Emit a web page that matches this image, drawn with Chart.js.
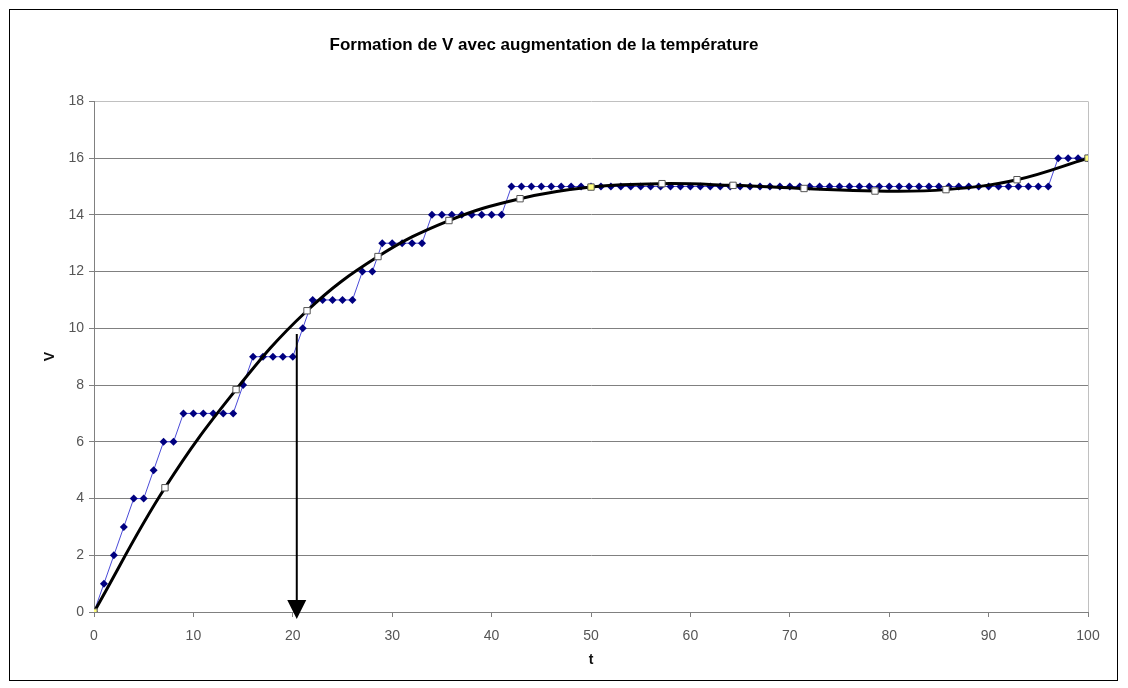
<!DOCTYPE html>
<html>
<head>
<meta charset="utf-8">
<script src="https://cdn.jsdelivr.net/npm/chart.js@4"></script>
<style>
  html, body { margin: 0; padding: 0; background: #fff; }
  #wrap { width: 1128px; height: 688px; }
</style>
</head>
<body>
<div id="wrap"><canvas id="myChart" width="1128" height="688"></canvas></div>
<script>
// temps t (un point par unité)
const tSteps = [0, 1, 2, 3, 4, 5, 6, 7, 8, 9, 10, 11, 12, 13, 14, 15, 16, 17, 18, 19, 20,
    21, 22, 23, 24, 25, 26, 27, 28, 29, 30, 31, 32, 33, 34, 35, 36, 37, 38, 39, 40,
    41, 42, 43, 44, 45, 46, 47, 48, 49, 50, 51, 52, 53, 54, 55, 56, 57, 58, 59, 60,
    61, 62, 63, 64, 65, 66, 67, 68, 69, 70, 71, 72, 73, 74, 75, 76, 77, 78, 79, 80,
    81, 82, 83, 84, 85, 86, 87, 88, 89, 90, 91, 92, 93, 94, 95, 96, 97, 98, 99, 100];
// valeurs mesurées de V
const vSteps = [0, 1, 2, 3, 4, 4, 5, 6, 6, 7, 7, 7, 7, 7, 7, 8, 9, 9, 9, 9, 9,
    10, 11, 11, 11, 11, 11, 12, 12, 13, 13, 13, 13, 13, 14, 14, 14, 14, 14, 14, 14,
    14, 15, 15, 15, 15, 15, 15, 15, 15, 15, 15, 15, 15, 15, 15, 15, 15, 15, 15, 15,
    15, 15, 15, 15, 15, 15, 15, 15, 15, 15, 15, 15, 15, 15, 15, 15, 15, 15, 15, 15,
    15, 15, 15, 15, 15, 15, 15, 15, 15, 15, 15, 15, 15, 15, 15, 15, 16, 16, 16, 16];

// courbe lissée (points de contrôle)
const tFit = [0, 7.14, 14.29, 21.43, 28.57, 35.71, 42.86, 50, 57.14, 64.29, 71.43, 78.57, 85.71, 92.86, 100];
const vFit = [0, 4.38, 7.84, 10.62, 12.53, 13.8, 14.57, 14.98, 15.1, 15.04, 14.93, 14.84, 14.89, 15.24, 16];

// flèche verticale (t, V départ, V arrivée)
const arrowT = 20.4;
const arrowFrom = 9.8;
const arrowTo = -0.25;

const yTicks = [0, 2, 4, 6, 8, 10, 12, 14, 16, 18];
const xTicks = [0, 10, 20, 30, 40, 50, 60, 70, 80, 90, 100];

const stepPoints = tSteps.map((t, i) => ({ x: t, y: vSteps[i] }));
const fitPoints = tFit.map((t, i) => ({ x: t, y: vFit[i] }));

// cadre extérieur + bordure de la zone de tracé
const framePlugin = {
    id: 'frame',
    beforeDraw(chart) {
        const c = chart.ctx;
        c.save();
        c.fillStyle = '#fff';
        c.fillRect(0, 0, chart.width, chart.height);
        c.strokeStyle = '#000';
        c.lineWidth = 1;
        c.strokeRect(9.5, 9.5, 1108, 671);
        c.restore();
    },
    beforeDatasetsDraw(chart) {
        const a = chart.chartArea;
        const c = chart.ctx;
        c.save();
        c.strokeStyle = '#c0c0c0';
        c.lineWidth = 1;
        c.beginPath();
        c.moveTo(a.right + 0.5, a.top);
        c.lineTo(a.right + 0.5, a.bottom);
        c.stroke();
        c.restore();
    }
};

// flèche noire
const arrowPlugin = {
    id: 'arrow',
    afterDatasetsDraw(chart) {
        const xs = chart.scales.x, ys = chart.scales.y;
        const c = chart.ctx;
        const x = xs.getPixelForValue(arrowT);
        const y1 = ys.getPixelForValue(arrowFrom);
        const y2 = ys.getPixelForValue(arrowTo);
        c.save();
        c.strokeStyle = '#000';
        c.fillStyle = '#000';
        c.lineWidth = 2;
        c.beginPath();
        c.moveTo(x, y1);
        c.lineTo(x, y2 - 15);
        c.stroke();
        c.beginPath();
        c.moveTo(x - 9.5, y2 - 19);
        c.lineTo(x + 9.5, y2 - 19);
        c.lineTo(x, y2);
        c.closePath();
        c.fill();
        c.restore();
    }
};

const ctx = document.getElementById('myChart').getContext('2d');
const myChart = new Chart(ctx, {
    type: 'line',
    data: {
        datasets: [
            {
                label: 'Courbe',
                data: fitPoints,
                borderColor: '#000',
                borderWidth: 3,
                tension: 0.4,
                pointStyle: 'rect',
                pointRadius: 4.5,
                pointBorderWidth: 1,
                pointBorderColor: '#555',
                pointBackgroundColor: (c) => (c.dataIndex === 0 || c.dataIndex === 7 || c.dataIndex === tFit.length - 1) ? '#ffff80' : '#fff',
                order: 0
            },
            {
                label: 'V',
                data: stepPoints,
                borderColor: '#4a4ad8',
                borderWidth: 1,
                tension: 0,
                pointStyle: 'rectRot',
                pointRadius: 4,
                pointBorderWidth: 0,
                pointBackgroundColor: '#000080',
                pointBorderColor: '#000080',
                order: 1
            }
        ]
    },
    options: {
        responsive: false,
        animation: false,
        layout: { padding: { left: 0, right: 40, top: 0, bottom: 0 } },
        plugins: {
            legend: { display: false },
            tooltip: { enabled: false },
            title: {
                display: true,
                text: 'Formation de V avec augmentation de la température',
                color: '#000',
                font: { family: 'Liberation Sans, Arial, sans-serif', size: 17, weight: 'bold', lineHeight: 1.2 },
                padding: { top: 35, bottom: 46 }
            }
        },
        scales: {
            x: {
                type: 'linear',
                min: 0,
                max: 100,
                afterFit: (s) => { s.height = 76; },
                afterBuildTicks: (s) => { s.ticks = xTicks.map(v => ({ value: v })); },
                grid: { drawOnChartArea: false, drawTicks: true, tickLength: 5, color: '#808080' },
                border: { color: '#808080', width: 1 },
                ticks: { color: '#555', padding: 11, maxRotation: 0, font: { family: 'Liberation Sans, Arial, sans-serif', size: 14 } },
                title: {
                    display: true,
                    text: 't',
                    color: '#111',
                    font: { family: 'Liberation Sans, Arial, sans-serif', size: 14, weight: 'bold', lineHeight: 1.2 },
                    padding: { top: 0, bottom: 19 }
                }
            },
            y: {
                min: 0,
                max: 18,
                afterFit: (s) => { s.width = 94; },
                afterBuildTicks: (s) => { s.ticks = yTicks.map(v => ({ value: v })); },
                grid: {
                    color: (c) => c.tick && c.tick.value === 18 ? '#c0c0c0' : '#808080',
                    tickColor: '#808080',
                    tickLength: 5,
                    drawTicks: true
                },
                border: { color: '#808080', width: 1 },
                ticks: { color: '#555', padding: 5, font: { family: 'Liberation Sans, Arial, sans-serif', size: 14 } },
                title: {
                    display: true,
                    text: 'V',
                    color: '#111',
                    font: { family: 'Liberation Sans, Arial, sans-serif', size: 14, weight: 'bold', lineHeight: 1.2 },
                    padding: { top: 42, bottom: 0 }
                }
            }
        }
    },
    plugins: [framePlugin, arrowPlugin]
});
</script>
</body>
</html>
